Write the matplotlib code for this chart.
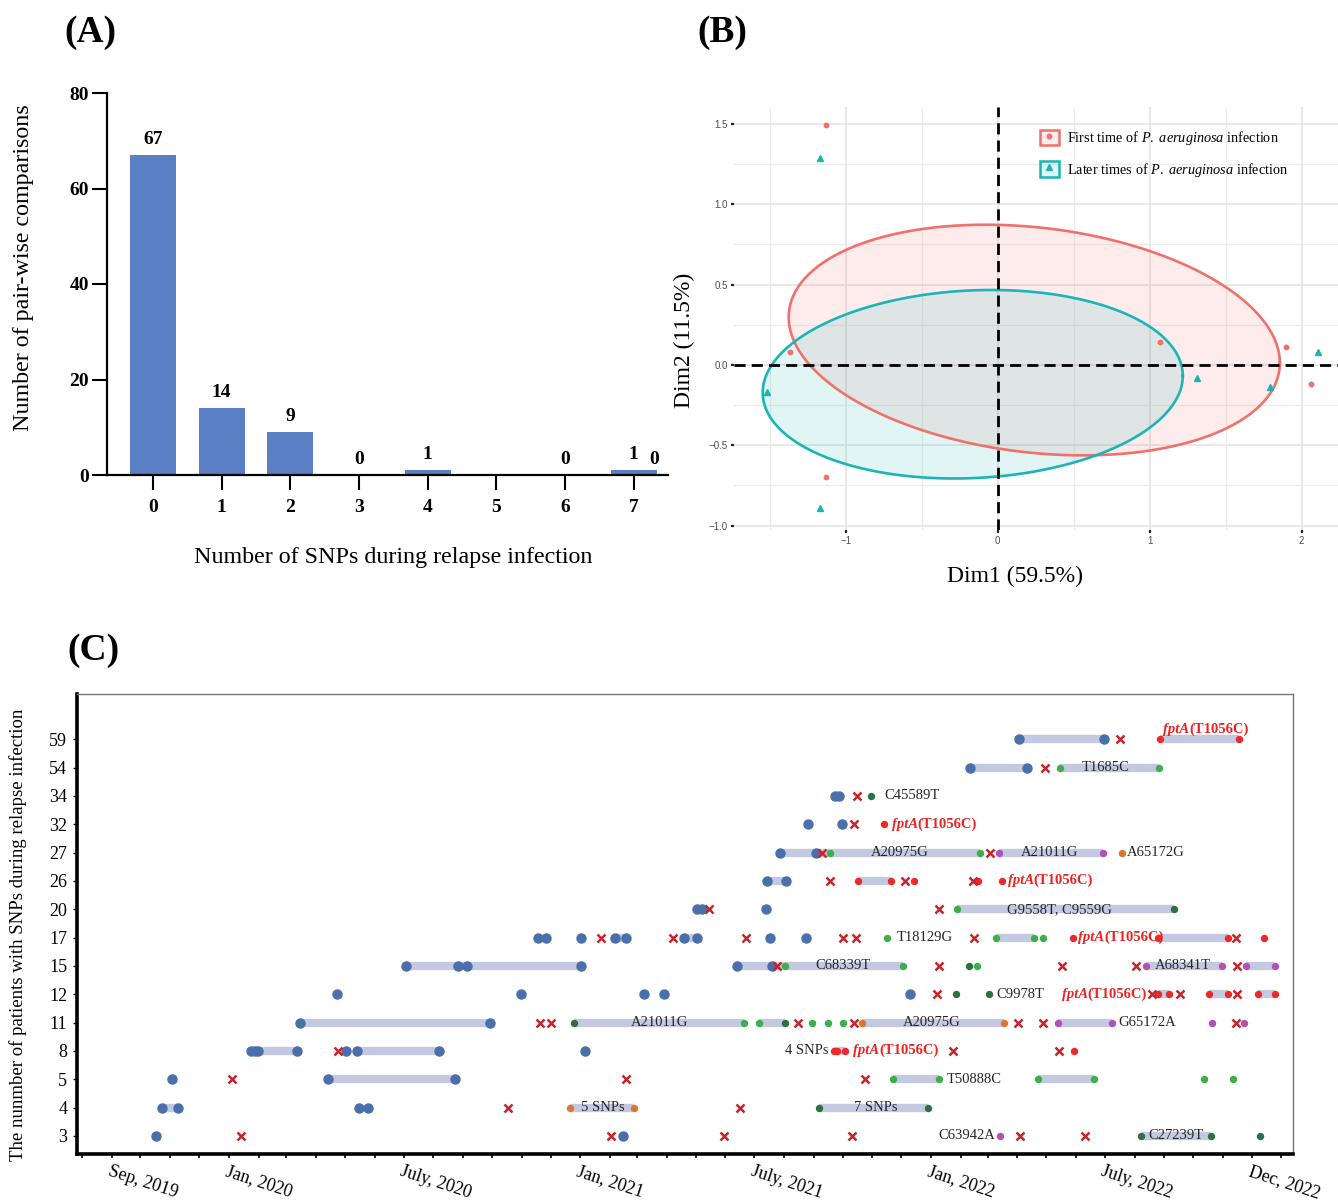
"""
Three-panel figure: SNP counts (A), PCA of isolates (B), SNP timeline per patient (C)
"""

import matplotlib
matplotlib.use('Agg')
import matplotlib.pyplot as plt
import matplotlib.dates as mdates
from matplotlib.patches import Rectangle
from matplotlib.lines import Line2D
from matplotlib.transforms import ScaledTranslation
import numpy as np
import pandas as pd

# ---------------- panel A data ----------------
snp_counts = [0, 1, 2, 3, 4, 5, 6, 7]
pair_counts = [67, 14, 9, 0, 1, 0, 0, 1]
bar_labels = ['67', '14', '9', '0', '1', '', '0', '1']
stray_label = ('0', 7.3)   # lone "0" printed right of the last bar

# ---------------- panel B data ----------------
first_dim1 = [-1.13, -1.37, 1.07, 1.90, 2.06, -1.13]
first_dim2 = [1.49, 0.08, 0.14, 0.11, -0.12, -0.70]
later_dim1 = [-1.17, -1.52, 1.31, 2.11, 1.79, -1.17]
later_dim2 = [1.29, -0.17, -0.08, 0.08, -0.14, -0.89]
ellipse_first_center = (0.24, 0.155)
ellipse_first_cov = [[2.615, -0.23], [-0.23, 0.515]]
ellipse_later_center = (-0.165, -0.12)
ellipse_later_cov = [[1.913, 0.072], [0.072, 0.344]]

# ---------------- panel C data ----------------
patients = ['3', '4', '5', '8', '11', '12', '15', '17', '20', '26', '27', '32', '34', '54', '59']

month_ticks = ['2019-09-01', '2020-01-01', '2020-07-01', '2021-01-01',
               '2021-07-01', '2022-01-01', '2022-07-01', '2022-12-01']
month_labels = ['Sep, 2019', 'Jan, 2020', 'July, 2020', 'Jan, 2021',
                'July, 2021', 'Jan, 2022', 'July, 2022', 'Dec, 2022']

# isolates without SNP (large blue dots)
blue_dots = {
    '3': ['2019-10-17', '2021-02-14'],
    '4': ['2019-10-23', '2019-11-09', '2020-05-16', '2020-05-25'],
    '5': ['2019-11-03', '2020-04-13', '2020-08-24'],
    '8': ['2020-01-24', '2020-01-28', '2020-01-31', '2020-03-12', '2020-05-02',
          '2020-05-13', '2020-08-07', '2021-01-06'],
    '11': ['2020-03-15', '2020-09-29'],
    '12': ['2020-04-23', '2020-10-31', '2021-03-08', '2021-03-29', '2021-12-10'],
    '15': ['2020-07-04', '2020-08-27', '2020-09-05', '2021-01-02', '2021-06-13', '2021-07-20'],
    '17': ['2020-11-18', '2020-11-26', '2021-01-02', '2021-02-06', '2021-02-18',
           '2021-04-19', '2021-05-02', '2021-07-18', '2021-08-24'],
    '20': ['2021-05-03', '2021-05-08', '2021-07-13'],
    '26': ['2021-07-14', '2021-08-03'],
    '27': ['2021-07-28', '2021-09-03'],
    '32': ['2021-08-26', '2021-09-30'],
    '34': ['2021-09-23', '2021-09-27'],
    '54': ['2022-02-11', '2022-04-11'],
    '59': ['2022-04-03', '2022-06-30'],
}

# red crosses
crosses = {
    '3': ['2020-01-14', '2021-02-02', '2021-05-31', '2021-10-11', '2022-04-04', '2022-06-10'],
    '4': ['2020-10-18', '2021-06-16'],
    '5': ['2020-01-04', '2021-02-18', '2021-10-24'],
    '8': ['2020-04-24', '2022-01-24', '2022-05-14'],
    '11': ['2020-11-20', '2020-12-02', '2021-08-16', '2021-10-13', '2022-04-02',
           '2022-04-28', '2022-11-15'],
    '12': ['2022-01-07', '2022-08-19', '2022-09-17', '2022-11-16'],
    '15': ['2021-07-25', '2022-01-09', '2022-05-17', '2022-08-03', '2022-11-16'],
    '17': ['2021-01-23', '2021-04-07', '2021-06-22', '2021-10-02', '2021-10-15',
           '2022-02-15', '2022-11-15'],
    '20': ['2021-05-15', '2022-01-09'],
    '26': ['2021-09-18', '2021-12-05', '2022-02-14'],
    '27': ['2021-09-10', '2022-03-04'],
    '32': ['2021-10-13'],
    '34': ['2021-10-16'],
    '54': ['2022-04-30'],
    '59': ['2022-07-17'],
}

# isolates with SNPs (small dots, one dict per colour)
green_dots = {
    '5': ['2021-11-23', '2022-01-09', '2022-04-23', '2022-06-20', '2022-10-12', '2022-11-12'],
    '11': ['2021-06-20', '2021-07-06', '2021-08-30', '2021-09-16', '2021-10-02'],
    '15': ['2021-08-02', '2021-12-03', '2022-02-18'],
    '17': ['2021-11-16', '2022-03-10', '2022-04-18', '2022-04-28'],
    '20': ['2022-01-28'],
    '27': ['2021-09-18', '2022-02-21'],
    '54': ['2022-05-15', '2022-08-26'],
}
dkgreen_dots = {
    '3': ['2022-08-08', '2022-10-20', '2022-12-10'],
    '4': ['2021-09-07', '2021-12-29'],
    '11': ['2020-12-25', '2021-08-02'],
    '12': ['2022-01-27', '2022-03-03'],
    '15': ['2022-02-10'],
    '20': ['2022-09-11'],
    '34': ['2021-10-31'],
}
red_dots = {
    '8': ['2021-09-22', '2021-09-25', '2021-10-04', '2022-05-30'],
    '12': ['2022-08-25', '2022-09-06', '2022-10-18', '2022-11-06', '2022-12-08', '2022-12-25'],
    '17': ['2022-05-29', '2022-08-25', '2022-11-06', '2022-12-14'],
    '26': ['2021-10-17', '2021-11-20', '2021-12-14', '2022-02-19', '2022-03-16'],
    '32': ['2021-11-13'],
    '59': ['2022-08-28', '2022-11-18'],
}
orange_dots = {
    '4': ['2020-12-21', '2021-02-26'],
    '11': ['2021-10-21', '2022-03-18'],
    '27': ['2022-07-19'],
}
purple_dots = {
    '3': ['2022-03-14'],
    '11': ['2022-05-13', '2022-07-09', '2022-10-21', '2022-11-23'],
    '15': ['2022-08-13', '2022-10-31', '2022-11-25', '2022-12-25'],
    '27': ['2022-03-13', '2022-06-29'],
}

# same-strain spans (grey-blue bars)
spans = [
    ('3', '2022-08-08', '2022-10-20'),
    ('4', '2019-10-23', '2019-11-09'), ('4', '2020-12-21', '2021-02-26'),
    ('4', '2021-09-07', '2021-12-29'),
    ('5', '2020-04-13', '2020-08-24'), ('5', '2021-11-23', '2022-01-09'),
    ('5', '2022-04-23', '2022-06-20'),
    ('8', '2020-01-24', '2020-03-12'), ('8', '2020-05-13', '2020-08-07'),
    ('8', '2021-09-22', '2021-10-04'),
    ('11', '2020-03-15', '2020-09-29'), ('11', '2020-12-25', '2021-06-20'),
    ('11', '2021-07-06', '2021-08-02'), ('11', '2021-10-21', '2022-03-18'),
    ('11', '2022-05-13', '2022-07-09'),
    ('12', '2022-08-25', '2022-09-06'), ('12', '2022-10-18', '2022-11-06'),
    ('12', '2022-12-08', '2022-12-25'),
    ('15', '2020-07-04', '2021-01-02'), ('15', '2021-06-13', '2021-12-03'),
    ('15', '2022-08-13', '2022-10-31'), ('15', '2022-11-25', '2022-12-25'),
    ('17', '2021-02-06', '2021-02-18'), ('17', '2021-04-19', '2021-05-02'),
    ('17', '2022-03-10', '2022-04-18'), ('17', '2022-08-25', '2022-11-06'),
    ('20', '2021-05-03', '2021-05-08'), ('20', '2022-01-28', '2022-09-11'),
    ('26', '2021-07-14', '2021-08-03'), ('26', '2021-10-17', '2021-11-20'),
    ('27', '2021-07-28', '2022-02-21'), ('27', '2022-03-13', '2022-06-29'),
    ('54', '2022-02-11', '2022-04-11'), ('54', '2022-05-15', '2022-08-26'),
    ('59', '2022-04-03', '2022-06-30'), ('59', '2022-08-28', '2022-11-18'),
]

# SNP text labels: (patient, anchor date, text, horizontal alignment)
snp_labels = [
    ('3', '2022-03-09', 'C63942A', 'right'),
    ('3', '2022-09-13', 'C27239T', 'center'),
    ('4', '2021-01-24', '5 SNPs', 'center'),
    ('4', '2021-11-05', '7 SNPs', 'center'),
    ('5', '2022-01-17', 'T50888C', 'left'),
    ('8', '2021-09-16', '4 SNPs', 'right'),
    ('11', '2021-03-25', 'A21011G', 'center'),
    ('11', '2022-01-02', 'A20975G', 'center'),
    ('11', '2022-07-15', 'G65172A', 'left'),
    ('12', '2022-03-10', 'C9978T', 'left'),
    ('15', '2021-10-02', 'C68339T', 'center'),
    ('15', '2022-09-20', 'A68341T', 'center'),
    ('17', '2021-11-26', 'T18129G', 'left'),
    ('20', '2022-05-15', 'G9558T, C9559G', 'center'),
    ('27', '2021-11-30', 'A20975G', 'center'),
    ('27', '2022-05-05', 'A21011G', 'center'),
    ('27', '2022-07-24', 'A65172G', 'left'),
    ('34', '2021-11-14', 'C45589T', 'left'),
    ('54', '2022-07-02', 'T1685C', 'center'),
]
# fptA(T1056C) labels: (patient, start date, placed above the row?)
fpta_labels = [
    ('8', '2021-10-12', False),
    ('12', '2022-05-17', False),
    ('17', '2022-06-03', False),
    ('26', '2022-03-22', False),
    ('32', '2021-11-21', False),
    ('59', '2022-08-31', True),
]

# ---------------- figure ----------------
W, H = 1338, 1203
plt.rcParams['font.family'] = ['Liberation Serif', 'DejaVu Serif']
plt.rcParams['mathtext.fontset'] = 'custom'
plt.rcParams['mathtext.rm'] = 'Liberation Serif'
plt.rcParams['mathtext.it'] = 'Liberation Serif:italic'
plt.rcParams['mathtext.bf'] = 'Liberation Serif:bold'

fig = plt.figure(figsize=(W / 100, H / 100), dpi=100)


def box(l, t, r, b):
    return [l / W, 1 - b / H, (r - l) / W, (b - t) / H]


def fx(px):
    return px / W


def fy(py):
    return 1 - py / H


# ---------- (A) ----------
axA = fig.add_axes(box(107, 93, 668, 475))
axA.bar(snp_counts, pair_counts, width=0.67, color='#5b7fc4', zorder=2)
for x, v, lab in zip(snp_counts, pair_counts, bar_labels):
    if lab:
        axA.annotate(lab, (x, v), xytext=(0, 5), textcoords='offset points',
                     ha='center', va='bottom', fontsize=14, fontweight='bold')
axA.annotate(stray_label[0], (stray_label[1], 0), xytext=(0, 5), textcoords='offset points',
             ha='center', va='bottom', fontsize=14, fontweight='bold')
axA.set_xlim(-0.67, 7.5)
axA.set_ylim(0, 80)
axA.set_xticks(snp_counts)
axA.set_yticks([0, 20, 40, 60, 80])
for s in ['top', 'right']:
    axA.spines[s].set_visible(False)
for s in ['left', 'bottom']:
    axA.spines[s].set_linewidth(1.6)
axA.tick_params(axis='y', length=10.5, width=1.5, labelsize=14, pad=2.5)
axA.tick_params(axis='x', length=10.5, width=1.5, labelsize=14, pad=7)
for lab in axA.get_xticklabels() + axA.get_yticklabels():
    lab.set_fontweight('bold')
fig.text(fx(24), fy(268), 'Number of pair-wise comparisons', rotation=90,
         ha='center', va='center', fontsize=17.3)
fig.text(fx(393), fy(557), 'Number of SNPs during relapse infection',
         ha='center', va='center', fontsize=17.3)
fig.text(fx(90), fy(33), '(A)', ha='center', va='center', fontsize=27, fontweight='bold')

# ---------- (B) ----------
red_c, cyan_c = '#f0716b', '#1ab5b7'
axB = fig.add_axes(box(734, 107, 1338, 530))
axB.set_xlim(-1.737, 2.24)
axB.set_ylim(-1.027, 1.605)
axB.set_xticks([-1, 0, 1, 2])
axB.set_xticks([-1.5, -0.5, 0.5, 1.5], minor=True)
axB.set_yticks([-1.0, -0.5, 0.0, 0.5, 1.0, 1.5])
axB.set_yticks([-0.75, -0.25, 0.25, 0.75, 1.25], minor=True)
axB.set_yticklabels(['\u22121.0', '\u22120.5', '0.0', '0.5', '1.0', '1.5'],
                    fontsize=7, color='#4d4d4d', family='Liberation Sans')
axB.set_xticklabels(['\u22121', '0', '1', '2'], fontsize=7, color='#4d4d4d',
                    family='Liberation Sans')
axB.grid(which='major', color='#e6e6e6', lw=1.3)
axB.grid(which='minor', color='#ececec', lw=0.9)
axB.set_axisbelow(True)
for s in axB.spines.values():
    s.set_visible(False)
axB.tick_params(which='major', length=2.5, width=1.6, color='#222222', pad=2)
axB.tick_params(which='minor', length=0)

t = np.linspace(0, 2 * np.pi, 300)
for center, cov, col in [(ellipse_first_center, ellipse_first_cov, red_c),
                         (ellipse_later_center, ellipse_later_cov, cyan_c)]:
    L = np.linalg.cholesky(np.array(cov))
    pts = L @ np.vstack([np.cos(t), np.sin(t)])
    ex, ey = pts[0] + center[0], pts[1] + center[1]
    axB.fill(ex, ey, color=col, alpha=0.13, lw=0, zorder=1)
    axB.plot(ex, ey, color=col, lw=1.9, zorder=2)

axB.axhline(0, color='black', lw=2, ls=(0, (4, 2.2)), zorder=3)
axB.axvline(0, color='black', lw=2, ls=(0, (4, 2.2)), zorder=3)
axB.plot(first_dim1, first_dim2, 'o', color=red_c, ms=3.2, zorder=4)
axB.plot(later_dim1, later_dim2, '^', color=cyan_c, ms=3.8, zorder=4)

handles = [
    (Rectangle((0, 0), 1, 1, facecolor=red_c, alpha=0.12),
     Rectangle((0, 0), 1, 1, facecolor='none', edgecolor=red_c, lw=1.8),
     Line2D([], [], marker='o', ls='', color=red_c, ms=3.2)),
    (Rectangle((0, 0), 1, 1, facecolor=cyan_c, alpha=0.12),
     Rectangle((0, 0), 1, 1, facecolor='none', edgecolor=cyan_c, lw=1.8),
     Line2D([], [], marker='^', ls='', color=cyan_c, ms=3.8)),
]
labels = [r'First time of $\mathit{P.}$ $\mathit{aeruginosa}$ infection',
          r'Later times of $\mathit{P.}$ $\mathit{aeruginosa}$ infection']
axB.legend(handles, labels, loc='upper left', bbox_to_anchor=(fx(1033), fy(122)),
           bbox_transform=fig.transFigure, frameon=False, borderpad=0,
           handlelength=1.3, handleheight=1.3, handletextpad=0.55,
           labelspacing=0.95, fontsize=10.3)

fig.text(fx(1015), fy(576), 'Dim1 (59.5%)', ha='center', va='center', fontsize=17)
fig.text(fx(684), fy(340), 'Dim2 (11.5%)', rotation=90, ha='center', va='center', fontsize=17)
fig.text(fx(722), fy(33), '(B)', ha='center', va='center', fontsize=27, fontweight='bold')

# ---------- (C) ----------
axC = fig.add_axes(box(77, 694, 1293, 1154))
row = {p: i for i, p in enumerate(patients)}


def dn(s):
    return mdates.date2num(pd.to_datetime(s))


for p, a, b in spans:
    axC.plot([dn(a), dn(b)], [row[p], row[p]], color='#c3c9e0', lw=6,
             solid_capstyle='butt', zorder=1)

for p, ds in blue_dots.items():
    axC.plot(dn(ds), [row[p]] * len(ds), 'o', color='#4a6fab', ms=6.5, zorder=3)

small = [(green_dots, '#3cae4a'), (dkgreen_dots, '#2e7040'), (red_dots, '#ec2a2a'),
         (orange_dots, '#dd7530'), (purple_dots, '#b350b3')]
for dots, col in small:
    for p, ds in dots.items():
        axC.plot(dn(ds), [row[p]] * len(ds), 'o', color=col, ms=4.3, zorder=4)

for p, ds in crosses.items():
    axC.plot(dn(ds), [row[p]] * len(ds), 'x', color='#c1272d', ms=5.8, mew=1.8, zorder=4)

for p, d, txt, ha in snp_labels:
    axC.text(dn(d), row[p], txt, ha=ha, va='center', fontsize=10.5, color='#262626', zorder=5)

fpta_red = '#ee2222'
for p, d, above in fpta_labels:
    if above:
        tt = axC.text(dn(d), row[p] + 0.13, 'fptA', ha='left', va='bottom', fontsize=10.5,
                      style='italic', fontweight='bold', color=fpta_red, zorder=5)
    else:
        tt = axC.text(dn(d), row[p], 'fptA', ha='left', va='center', fontsize=10.5,
                      style='italic', fontweight='bold', color=fpta_red, zorder=5)
    axC.annotate('(T1056C)', xy=(1, 0), xycoords=tt, ha='left', va='bottom',
                 fontsize=10.5, fontweight='bold', color=fpta_red, zorder=5)

axC.set_ylim(-0.64, 15.6)
axC.set_yticks(range(len(patients)))
axC.set_yticklabels(patients, fontsize=13)
axC.set_xlim(dn('2019-07-27'), dn('2023-01-13'))
axC.set_xticks(dn(month_ticks))
axC.set_xticklabels(month_labels, fontsize=13, rotation=-18, ha='left', va='top',
                    rotation_mode='anchor')
axC.xaxis.set_minor_locator(mdates.MonthLocator())
shift = ScaledTranslation(-7 / 100, 0, fig.dpi_scale_trans)
for lab in axC.get_xticklabels():
    lab.set_transform(lab.get_transform() + shift)
axC.tick_params(axis='x', which='both', length=3, width=1.2, pad=3.5)
axC.tick_params(axis='y', length=3, width=1.0, pad=4)
for s in ['left', 'bottom']:
    axC.spines[s].set_linewidth(2.6)
for s in ['top', 'right']:
    axC.spines[s].set_linewidth(1.0)
    axC.spines[s].set_color('#777777')

fig.text(fx(18), fy(935), 'The nunmber of patients with SNPs during relapse infection',
         rotation=90, ha='center', va='center', fontsize=13.5)
fig.text(fx(93), fy(650), '(C)', ha='center', va='center', fontsize=27, fontweight='bold')

fig.savefig('out.png', dpi=100)
